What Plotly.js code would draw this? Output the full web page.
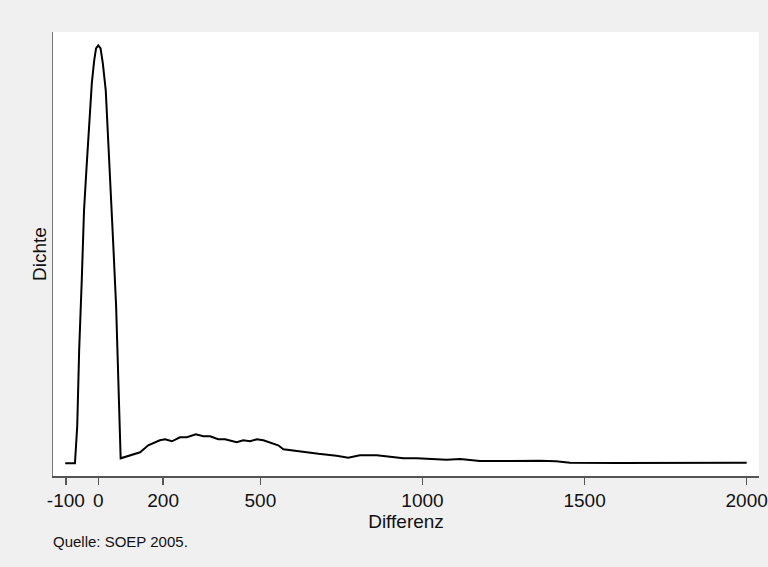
<!DOCTYPE html>
<html>
<head>
<meta charset="utf-8">
<script src="https://cdn.plot.ly/plotly-3.0.1.min.js"></script>
<style>html,body{margin:0;padding:0;background:#f0f0f0;}#chart{width:768px;height:567px;}</style>
</head>
<body>
<div id="chart"></div>
<script>
// Differenz (x) and kernel density (Dichte, arbitrary units x1e-5)
const differenz = [-102, -72, -65, -59, -51, -44, -36, -29, -20, -13, -7, 0, 7, 14, 23, 31, 39, 46, 55, 62, 69,
  129, 154, 190, 206, 227, 252, 273, 301, 324, 345, 370, 391, 427, 447, 468, 489, 509, 540, 555, 571, 601, 643,
  679, 735, 771, 807, 859, 894, 941, 982, 1033, 1075, 1116, 1157, 1177, 1270, 1362, 1412, 1455, 1600, 1701, 1800, 1900, 2000];
const dichte = [0, 0, 37, 113, 183, 253, 297, 337, 380, 402, 415, 418, 415, 400, 373, 320, 273, 220, 157, 80, 5,
  11, 18, 23, 24, 22, 26, 26, 29, 27, 27, 24, 24, 21, 23, 22, 24, 23, 20, 18, 14, 13, 11,
  9.5, 7.6, 5.6, 8, 8, 6.6, 5, 5, 4, 3.6, 4.3, 3.3, 2.3, 2.3, 2.6, 2, 0.6, 0.4, 0.5, 0.3, 0.4, 0.5];
const tickVals = [-100, 0, 200, 500, 1000, 1500, 2000];
const tickText = ['-100', '0', '200', '500', '1000', '1500', '2000'];

const trace = {
  x: differenz, y: dichte, type: 'scatter', mode: 'lines',
  line: {color: '#000000', width: 2}, hoverinfo: 'x+y'
};

const layout = {
  width: 768, height: 567,
  paper_bgcolor: '#f0f0f0', plot_bgcolor: '#ffffff',
  margin: {l: 53, r: 9, t: 32, b: 91},
  font: {family: 'Liberation Sans, Arial, sans-serif', color: '#111111', size: 19},
  showlegend: false,
  xaxis: {
    range: [-139.7, 2038], tickvals: tickVals, ticktext: tickText,
    showgrid: false, zeroline: false, showline: true, linecolor: '#555555', linewidth: 1.5,
    ticks: 'outside', ticklen: 7, tickwidth: 1.3, tickcolor: '#555555',
    tickfont: {size: 19}, title: {text: 'Differenz', font: {size: 19}, standoff: 2}
  },
  yaxis: {
    range: [-12.7, 431.3], showticklabels: false, ticks: '',
    showgrid: false, zeroline: false, showline: true, linecolor: '#777777', linewidth: 1.5,
    title: {text: 'Dichte', font: {size: 19}, standoff: 0}
  },
  annotations: [{
    text: 'Quelle: SOEP 2005.', xref: 'paper', yref: 'paper', x: -0.003, y: -0.148,
    xanchor: 'left', yanchor: 'middle', showarrow: false, font: {size: 15, color: '#111111'}
  }]
};

Plotly.newPlot('chart', [trace], layout, {displayModeBar: false, staticPlot: true});
</script>
</body>
</html>
